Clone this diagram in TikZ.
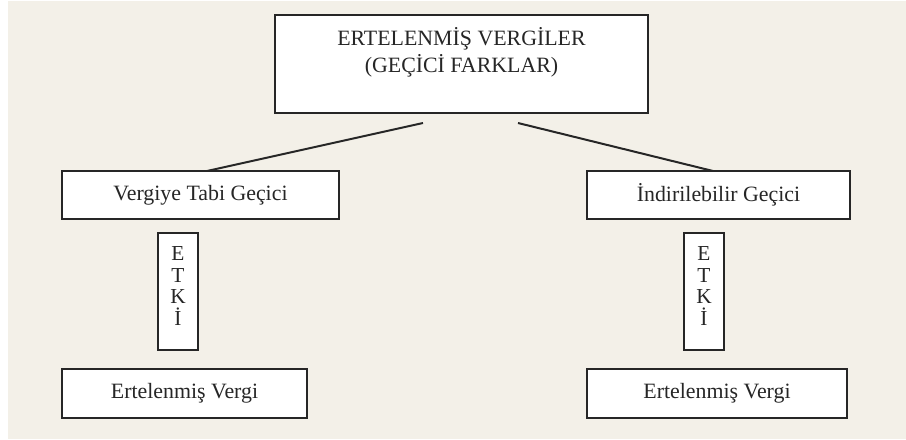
\documentclass[tikz,border=0pt]{standalone}
\usepackage{fontspec}
\setmainfont{Liberation Serif}
\definecolor{bgbeige}{HTML}{F3F0E8}
\begin{document}
\begin{tikzpicture}[x=0.75pt,y=-0.75pt,
  box/.style={draw=black!85,line width=1.5pt,fill=white,inner sep=0pt,
    font=\fontsize{16.4}{16.4}\selectfont,text=black!85},
  lbl/.style={inner sep=0pt,text=black!85,align=center},
  conn/.style={draw=black!85,line width=1.5pt}]
\useasboundingbox (0,0) rectangle (906,439);
\fill[bgbeige] (8,1) rectangle (906,439);
\node[box,minimum width=279.75pt,minimum height=73.5pt] (top) at (461.5,64) {};
\node[lbl,font=\fontsize{16.4}{20.25}\selectfont] (toptext) at (461.5,52) {ERTELENMİŞ VERGİLER\\(GEÇİCİ FARKLAR)};
\node[box,minimum width=207.75pt,minimum height=36pt] (lbox) at (200.5,195) {Vergiye Tabi Geçici};
\node[box,minimum width=197.25pt,minimum height=36pt] (rbox) at (718.5,195) {İndirilebilir Geçici};
\node[box,minimum width=30pt,minimum height=87.75pt] (letki) at (178,291.5) {};
\node[box,minimum width=30pt,minimum height=87.75pt] (retki) at (704,291.5) {};
\node[lbl,font=\fontsize{16}{16.3}\selectfont] (letkit) at (178,286) {E\\T\\K\\İ};
\node[lbl,font=\fontsize{16}{16.3}\selectfont] (retkit) at (704,286) {E\\T\\K\\İ};
\node[box,minimum width=183.75pt,minimum height=36.75pt] (lbot) at (184.5,393.5) {Ertelenmiş Vergi};
\node[box,minimum width=195pt,minimum height=36.75pt] (rbot) at (717,393.5) {Ertelenmiş Vergi};
\coordinate (ls) at (423,123);
\coordinate (rs) at (518,123);
\coordinate (le) at (207,171);
\coordinate (re) at (713,171);
\draw[conn] (ls) -- (le);
\draw[conn] (rs) -- (re);
\end{tikzpicture}
\end{document}
